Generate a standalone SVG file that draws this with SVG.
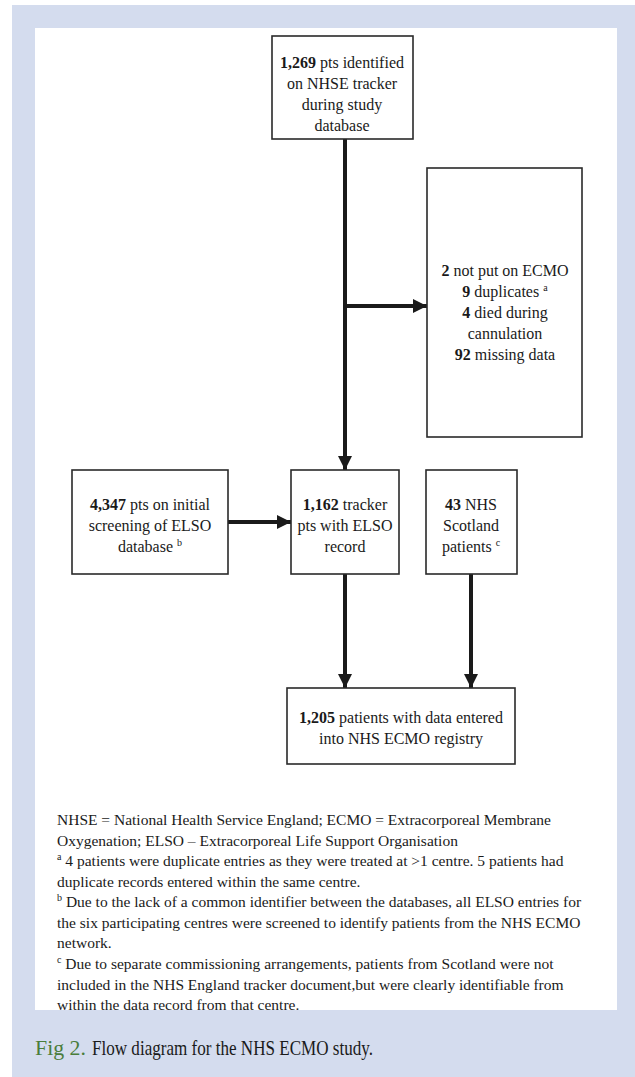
<svg xmlns="http://www.w3.org/2000/svg" width="635" height="1077" viewBox="0 0 635 1077">
<style>
.box{fill:#fff;stroke:#2a2a2a;stroke-width:1.6}
.t{font-family:"Liberation Serif","Times New Roman",serif;font-size:16px;fill:#1a1a1a;text-anchor:middle}
.f{font-family:"Liberation Serif","Times New Roman",serif;font-size:15.5px;fill:#1a1a1a}
.c{stroke:#1a1a1a;stroke-width:4;fill:none}
.cap{font-family:"Liberation Serif","Times New Roman",serif;font-size:21px;fill:#1a1a1a}
</style>
<defs>
<marker id="ah" viewBox="0 0 10 10" refX="10" refY="5" markerWidth="3.5" markerHeight="3.5" markerUnits="strokeWidth" orient="auto">
<path d="M0,0 L10,5 L0,10 z" fill="#1a1a1a"/>
</marker>
<clipPath id="panel"><rect x="35" y="28" width="582" height="982"/></clipPath>
</defs>
<rect x="12" y="5" width="623" height="1072" fill="#d4dcee"/>
<rect x="35" y="28" width="582" height="982" fill="#fff"/>

<g id="connectors">
<line class="c" x1="345" y1="139" x2="345" y2="470" marker-end="url(#ah)"/>
<line class="c" x1="345" y1="306" x2="427" y2="306" marker-end="url(#ah)"/>
<line class="c" x1="228" y1="522" x2="291" y2="522" marker-end="url(#ah)"/>
<line class="c" x1="345" y1="574" x2="345" y2="688" marker-end="url(#ah)"/>
<line class="c" x1="471" y1="574" x2="471" y2="688" marker-end="url(#ah)"/>
</g>

<g id="n1">
<rect class="box" x="272" y="36" width="141" height="103"/>
<text class="t" x="342" y="68"><tspan font-weight="bold">1,269</tspan> pts identified</text>
<text class="t" x="342" y="89">on NHSE tracker</text>
<text class="t" x="342" y="110">during study</text>
<text class="t" x="342" y="131">database</text>
</g>

<g id="n2">
<rect class="box" x="427" y="168" width="155" height="269"/>
<text class="t" x="505" y="276"><tspan font-weight="bold">2</tspan> not put on ECMO</text>
<text class="t" x="505" y="297"><tspan font-weight="bold">9</tspan> duplicates <tspan font-size="10" dy="-6">a</tspan></text>
<text class="t" x="505" y="318"><tspan font-weight="bold">4</tspan> died during</text>
<text class="t" x="505" y="339">cannulation</text>
<text class="t" x="505" y="360"><tspan font-weight="bold">92</tspan> missing data</text>
</g>

<g id="n3">
<rect class="box" x="72" y="470" width="156" height="104"/>
<text class="t" x="150" y="510"><tspan font-weight="bold">4,347</tspan> pts on initial</text>
<text class="t" x="150" y="531">screening of ELSO</text>
<text class="t" x="150" y="552">database <tspan font-size="10" dy="-6">b</tspan></text>
</g>

<g id="n4">
<rect class="box" x="291" y="470" width="108" height="104"/>
<text class="t" x="345" y="510"><tspan font-weight="bold">1,162</tspan> tracker</text>
<text class="t" x="345" y="531">pts with ELSO</text>
<text class="t" x="345" y="552">record</text>
</g>

<g id="n5">
<rect class="box" x="426" y="470" width="91" height="104"/>
<text class="t" x="471" y="510"><tspan font-weight="bold">43</tspan> NHS</text>
<text class="t" x="471" y="531">Scotland</text>
<text class="t" x="471" y="552">patients <tspan font-size="10" dy="-6">c</tspan></text>
</g>

<g id="n6">
<rect class="box" x="287" y="688" width="228" height="76"/>
<text class="t" x="401" y="723"><tspan font-weight="bold">1,205</tspan> patients with data entered</text>
<text class="t" x="401" y="744">into NHS ECMO registry</text>
</g>

<g id="notes" clip-path="url(#panel)">
<text class="f" x="57" y="825">NHSE = National Health Service England; ECMO = Extracorporeal Membrane</text>
<text class="f" x="57" y="846">Oxygenation; ELSO – Extracorporeal Life Support Organisation</text>
<text class="f" x="57" y="866"><tspan font-size="10" dy="-6">a</tspan><tspan dy="6"> 4 patients were duplicate entries as they were treated at &gt;1 centre. 5 patients had</tspan></text>
<text class="f" x="57" y="887">duplicate records entered within the same centre.</text>
<text class="f" x="57" y="907"><tspan font-size="10" dy="-6">b</tspan><tspan dy="6"> Due to the lack of a common identifier between the databases, all ELSO entries for</tspan></text>
<text class="f" x="57" y="928">the six participating centres were screened to identify patients from the NHS ECMO</text>
<text class="f" x="57" y="948">network.</text>
<text class="f" x="57" y="969"><tspan font-size="10" dy="-6">c</tspan><tspan dy="6"> Due to separate commissioning arrangements, patients from Scotland were not</tspan></text>
<text class="f" x="57" y="990">included in the NHS England tracker document,but were clearly identifiable from</text>
<text class="f" x="57" y="1010">within the data record from that centre.</text>
</g>

<text class="cap" x="35" y="1055" fill="#4a7d3b" style="fill:#4a7d3b" textLength="51" lengthAdjust="spacingAndGlyphs">Fig 2.</text>
<text class="cap" x="92" y="1055" textLength="281" lengthAdjust="spacingAndGlyphs">Flow diagram for the NHS ECMO study.</text>
</svg>
